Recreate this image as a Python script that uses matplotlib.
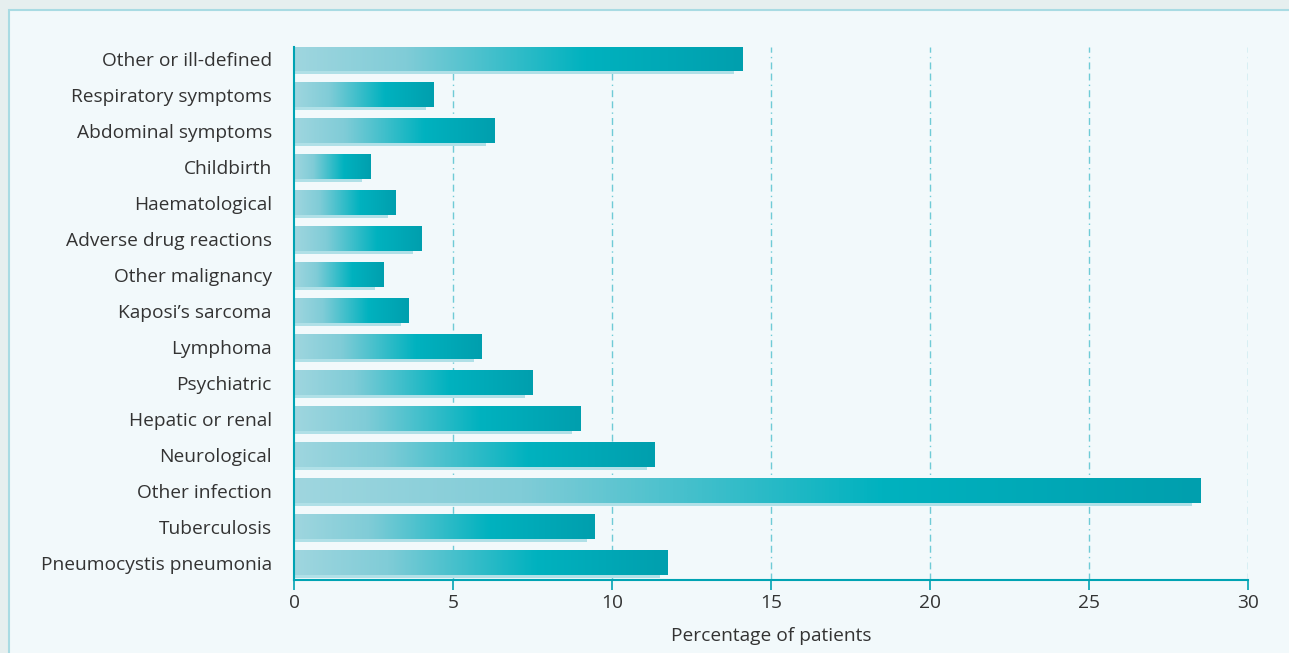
import matplotlib.pyplot as plt
import numpy as np
from matplotlib.colors import LinearSegmentedColormap
from matplotlib.patches import Rectangle

plt.rcParams['font.family'] = ['Open Sans', 'DejaVu Sans']

categories = ['Pneumocystis pneumonia', 'Tuberculosis', 'Other infection', 'Neurological',
              'Hepatic or renal', 'Psychiatric', 'Lymphoma', 'Kaposi\u2019s sarcoma',
              'Other malignancy', 'Adverse drug reactions', 'Haematological', 'Childbirth',
              'Abdominal symptoms', 'Respiratory symptoms', 'Other or ill-defined']
values = [11.75, 9.45, 28.5, 11.35, 9.0, 7.5, 5.9, 3.6, 2.8, 4.0, 3.2, 2.4, 6.3, 4.4, 14.1]
xticks = [0, 5, 10, 15, 20, 25, 30]

teal = '#00a3b3'
cmap = LinearSegmentedColormap.from_list(
    'bar', [(0, '#9fd6df'), (0.25, '#80ccd7'), (0.65, '#00b2bf'), (1, '#009fae')])
grad = np.linspace(0, 1, 256).reshape(1, -1)

fig = plt.figure(figsize=(12.89, 6.53), dpi=100)
fig.patch.set_facecolor('#e6efef')
fig.patches.append(Rectangle((9 / 1289, -0.1), 1.1, 1 - 10 / 653 + 0.1, transform=fig.transFigure,
                             facecolor='#f2f9fb', edgecolor='#a9dbe3', linewidth=1.5, zorder=-1))

ax = fig.add_axes([294 / 1289, 73 / 653, 954 / 1289, 533 / 653])
ax.set_zorder(1)
ax.set_facecolor('none')

# bars: light shadow strip underneath, then the gradient fill
h = 0.67
for i, v in enumerate(values):
    ax.add_patch(Rectangle((0, i - h / 2 - 0.07), v - 0.25, h, facecolor='#b0e0e7',
                           edgecolor='none', zorder=2))
    ax.imshow(grad, cmap=cmap, extent=(0, v, i - h / 2, i + h / 2), aspect='auto',
              interpolation='bilinear', zorder=3)

ax.set_xlim(0, 30)
ax.set_ylim(-0.47, len(categories) - 1 + h / 2)
ax.set_aspect('auto')

for x in xticks[1:]:
    ax.axvline(x, color='#6fcbd6', linewidth=1, linestyle=(0, (5, 3, 5, 3, 1, 3)), zorder=1)

ax.set_yticks(range(len(categories)))
ax.set_yticklabels(categories, fontsize=13.8, color='#333333')
ax.set_xticks(xticks)
ax.set_xticklabels([str(x) for x in xticks], fontsize=13.8, color='#333333')
ax.tick_params(axis='y', length=0, pad=16)
ax.tick_params(axis='x', length=7, width=1.2, color=teal, pad=3)
ax.set_xlabel('Percentage of patients', fontsize=13.8, color='#333333', labelpad=11)

for s in ['top', 'right']:
    ax.spines[s].set_visible(False)
ax.spines['left'].set_color(teal)
ax.spines['left'].set_linewidth(1.5)
ax.spines['left'].set_zorder(4)
ax.spines['bottom'].set_color(teal)
ax.spines['bottom'].set_linewidth(1.5)

fig.savefig('out.png', dpi=100, facecolor=fig.get_facecolor())
